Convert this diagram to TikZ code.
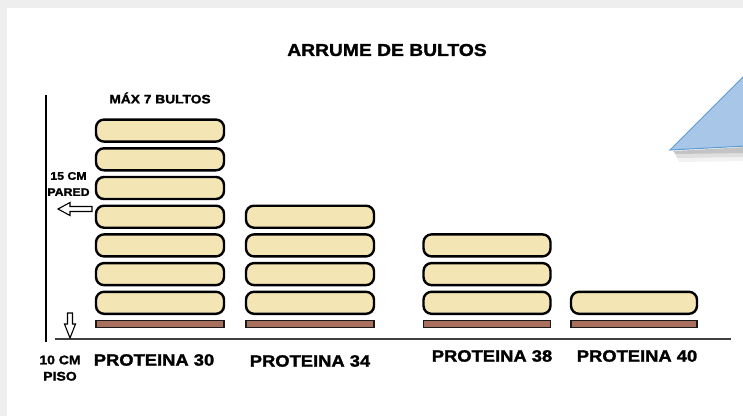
\documentclass[tikz,border=0pt]{standalone}
\usepackage{fontspec}
\setmainfont{Liberation Sans}
\newfontfamily\heavy{Liberation Sans}[FakeStretch=1.12, BoldFeatures={FakeBold=1.6}]
\usepackage{tikz}
\usetikzlibrary{positioning}

\definecolor{bagfill}{RGB}{243,229,180}
\definecolor{palletfill}{RGB}{168,112,92}
\definecolor{triblue}{RGB}{168,198,232}
\definecolor{triedge}{RGB}{91,155,213}
\definecolor{framegray}{RGB}{238,238,238}

\tikzset{
    bag/.style={draw=black, line width=2.4pt, fill=bagfill, rounded corners=8pt, minimum height=22pt, inner sep=0pt},
    pallet/.style={draw=black!90, line width=1.5pt, fill=palletfill, minimum height=7pt, inner sep=0pt},
    lbl/.style={inner sep=0pt, font=\heavy\bfseries\fontsize{#1}{#1}\selectfont},
    hollow/.style={draw=black, line width=1.1pt, fill=white, line join=miter}
}

\begin{document}
\begin{tikzpicture}[x=1pt, y=-1pt]
    \useasboundingbox (0,0) rectangle (743,416);
    % page background
    \fill[white] (0,0) rectangle (743,416);
    \fill[framegray] (0,0) rectangle (743,8);
    \fill[framegray] (0,8) rectangle (7,416);

    % blue shape in the corner
    \begin{scope}
        \clip (0,0) rectangle (743,416);
        \fill[black, opacity=0.05] (674,151) -- (746,147) -- (746,161) -- (679,162) -- cycle;
        \fill[black, opacity=0.08] (674,151) -- (746,147) -- (746,157) -- (677,158) -- cycle;
        \fill[black, opacity=0.12] (673,151) -- (746,147) -- (746,153) -- (675,154) -- cycle;
        \draw[triedge, fill=triblue, line width=1pt] (670,150) -- (746,74) -- (746,146) -- cycle;
    \end{scope}

    % wall and floor
    \coordinate (walltop) at (46,95);
    \coordinate (wallbot) at (46,342);
    \coordinate (floorL) at (55,339);
    \coordinate (floorR) at (731,339);
    \draw[line width=1.8pt] (walltop) -- (wallbot);
    \draw[line width=1.4pt, black!75] (floorL) -- (floorR);

    % stacks: name/x/width/bags
    \foreach \n/\x/\w/\k in {a/160/128/7, b/310/128/4, c/487/127/3, d/634/126/1} {
        \node[pallet, minimum width=\w pt] (\n0) at (\x,324) {};
        \foreach \i in {1,...,\k}
            \node[bag, minimum width=\w pt] (\n\i) at (\x,{331.5-28.7*\i}) {};
    }

    % hollow arrows
    \draw[hollow] (58,209) -- (70,202.5) -- (70,206.5) -- (92,206.5) -- (92,211.5) -- (70,211.5) -- (70,215.5) -- cycle;
    \draw[hollow] (70,338) -- (64.5,324) -- (67.5,324) -- (67.5,313) -- (72.5,313) -- (72.5,324) -- (75.5,324) -- cycle;

    % texts
    \node[lbl=17.2] (title) at (387,50) {ARRUME DE BULTOS};
    \node[lbl=12.3] (max) at (160,98) {MÁX 7 BULTOS};
    \node[lbl=11] (cm15) at (68.5,176) {15 CM};
    \node[lbl=11, below=8pt of cm15] (pared) {PARED};
    \node[lbl=12.5] (cm10) at (60,360) {10 CM};
    \node[lbl=12.5, below=7pt of cm10] (piso) {PISO};
    \node[lbl=16.4] (p30) at (154,360) {PROTEINA 30};
    \node[lbl=16.4] (p34) at (310,361) {PROTEINA 34};
    \node[lbl=16.4] (p38) at (492,356) {PROTEINA 38};
    \node[lbl=16.4] (p40) at (637,356) {PROTEINA 40};
\end{tikzpicture}
\end{document}
